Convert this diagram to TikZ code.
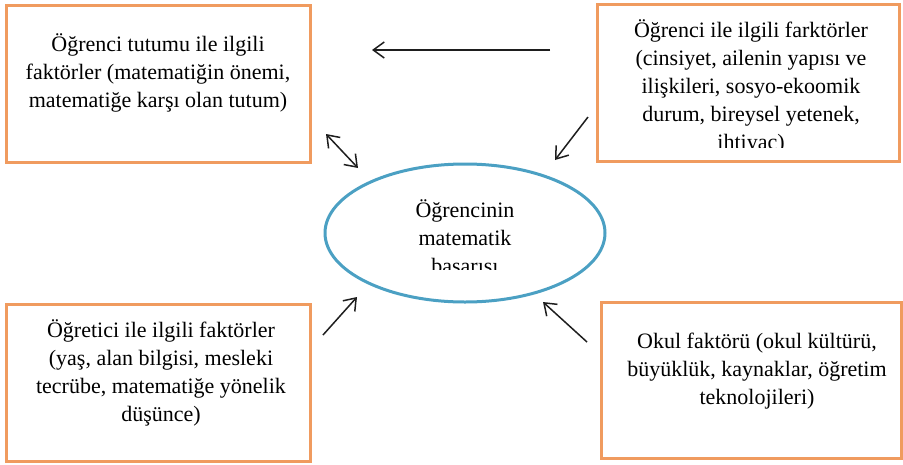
\documentclass[tikz,border=0pt]{standalone}
\usepackage{fontspec}
\setmainfont{Liberation Serif}
\newfontfamily\timesx{Liberation Serif}
\usetikzlibrary{arrows.meta,shapes.geometric}
\definecolor{boxorange}{RGB}{240,155,95}
\definecolor{ellblue}{RGB}{75,160,195}
\definecolor{arrowgray}{RGB}{30,30,30}
\tikzset{
  factorbox/.style={draw=boxorange, line width=3pt, rectangle, inner sep=0pt, outer sep=0pt},
  centerell/.style={draw=ellblue, line width=3pt, ellipse, inner sep=0pt, outer sep=0pt},
  txt/.style={align=center, inner sep=0pt, font=\timesx\fontsize{22}{28}\selectfont, text=black},
  conn/.style={draw=arrowgray, line width=1.5pt, -{Straight Barb[length=11pt,width=16pt,line width=1.5pt]}},
  dconn/.style={draw=arrowgray, line width=1.5pt, {Straight Barb[length=11pt,width=16pt,line width=1.5pt]}-{Straight Barb[length=11pt,width=16pt,line width=1.5pt]}}
}
\begin{document}
\begin{tikzpicture}[x=1pt,y=-1pt]
\useasboundingbox (0,0) rectangle (903,464);
% boxes
\node[factorbox, minimum width=304pt, minimum height=157pt] (tl) at (158.5,84) {};
\node[factorbox, minimum width=302pt, minimum height=157pt] (tr) at (748.5,83) {};
\node[factorbox, minimum width=304pt, minimum height=157pt] (bl) at (158.5,383) {};
\node[factorbox, minimum width=300pt, minimum height=156pt] (br) at (751.5,380.5) {};
% ellipse
\node[centerell, minimum width=280pt, minimum height=138pt] (ell) at (465,233) {};
% texts
\node[txt] (tltext) at (158,72.5) {Öğrenci tutumu ile ilgili\\faktörler (matematiğin önemi,\\matematiğe karşı olan tutum)};
\begin{scope}
\clip (597.5,4.5) rectangle (899.5,147);
\node[txt] (trtext) at (751,87) {Öğrenci ile ilgili farktörler\\(cinsiyet, ailenin yapısı ve\\ilişkileri, sosyo-ekoomik\\durum, bireysel yetenek,\\ihtiyaç)};
\end{scope}
\node[txt] (bltext) at (161,372.5) {Öğretici ile ilgili faktörler\\(yaş, alan bilgisi, mesleki\\tecrübe, matematiğe yönelik\\düşünce)};
\node[txt] (brtext) at (757,371.5) {Okul faktörü (okul kültürü,\\büyüklük, kaynaklar, öğretim\\teknolojileri)};
\begin{scope}
\clip (330,160) rectangle (600,269);
\node[txt] (elltext) at (465,238.5) {Öğrencinin\\matematik\\başarısı};
\end{scope}
% connector endpoints
\coordinate (h1) at (550,50);
\coordinate (h2) at (372,50);
\coordinate (d1) at (326,134);
\coordinate (d2) at (358,168);
\coordinate (r1) at (588,117);
\coordinate (r2) at (555,160);
\coordinate (b1) at (323,335);
\coordinate (b2) at (357,297);
\coordinate (c1) at (587,342);
\coordinate (c2) at (543,302);
\draw[conn] (h1) -- (h2);
\draw[dconn] (d1) -- (d2);
\draw[conn] (r1) -- (r2);
\draw[conn] (b1) -- (b2);
\draw[conn] (c1) -- (c2);
\end{tikzpicture}
\end{document}
